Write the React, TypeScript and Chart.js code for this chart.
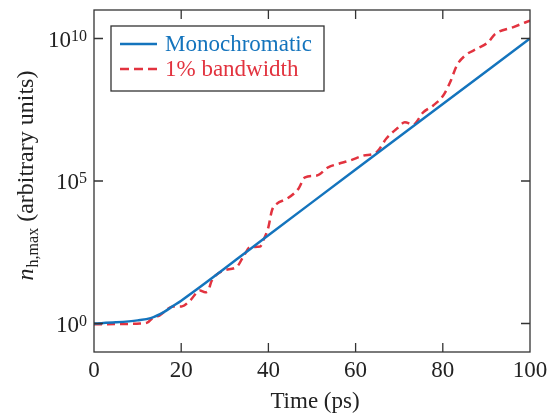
import React, { useEffect, useRef } from "react";
import { Chart, registerables } from "chart.js";

Chart.register(...registerables);

// Monochromatic series: time (ps) and log10 of n_h,max
const monoTimes = [0, 5, 10, 13, 16, 18, 20, 40, 60, 80, 100];
const monoExp = [0, 0.04, 0.11, 0.19, 0.4, 0.6, 0.8, 3.1, 5.4, 7.7, 10];

// 1% bandwidth series: time (ps) and log10 of n_h,max
const bwTimes = [0, 5, 10.6, 12.2, 13.5, 15, 18.2, 20.1, 22, 24.3, 25.5, 26.2, 27, 29.7, 32.7, 34.2, 35.8, 38.1, 38.8, 40, 40.8, 41.9, 44.2, 46.9, 48.4, 51.1, 53.7, 56, 58.7, 61.8, 64.8, 67.1, 69.4, 71.3, 73.2, 75.5, 77.8, 80.1, 81.7, 83.2, 85.1, 87.8, 90.4, 92, 96.2, 100];
const bwExp = [-0.03, -0.02, 0.0, 0.03, 0.2, 0.28, 0.6, 0.6, 0.8, 1.16, 1.1, 1.16, 1.5, 1.86, 1.98, 2.33, 2.68, 2.7, 2.91, 3.38, 3.96, 4.2, 4.37, 4.73, 5.13, 5.19, 5.48, 5.6, 5.72, 5.89, 6.01, 6.5, 6.83, 7.06, 6.98, 7.41, 7.65, 8.0, 8.47, 9.05, 9.4, 9.64, 9.87, 10.16, 10.4, 10.63];

const xTicks = [0, 20, 40, 60, 80, 100];
const yTickExps = [0, 5, 10];

const seriesLabels = ["Monochromatic", "1% bandwidth"];
const BLUE = "#1474bd";
const RED = "#e2333f";
const FONT = "'Liberation Serif', 'Times New Roman', serif";

const toPoints = (ts: number[], es: number[]) => ts.map((t, i) => ({ x: t, y: Math.pow(10, es[i]) }));

const drawPlugin = {
  id: "customDraw",
  afterDraw(chart: any) {
    const ctx: CanvasRenderingContext2D = chart.ctx;
    const { left, right, top, bottom } = chart.chartArea;
    const xs = chart.scales.x;
    const ys = chart.scales.y;
    ctx.save();
    ctx.strokeStyle = "#333";
    ctx.lineWidth = 1.3;
    ctx.strokeRect(left, top, right - left, bottom - top);
    ctx.fillStyle = "#222";
    const tl = 9;
    // x ticks
    ctx.font = `23px ${FONT}`;
    ctx.textAlign = "center";
    ctx.textBaseline = "alphabetic";
    xTicks.forEach((v) => {
      const px = xs.getPixelForValue(v);
      if (v > xs.min && v < xs.max) {
        ctx.beginPath();
        ctx.moveTo(px, bottom);
        ctx.lineTo(px, bottom - tl);
        ctx.moveTo(px, top);
        ctx.lineTo(px, top + tl);
        ctx.stroke();
      }
      ctx.fillText(String(v), px, bottom + 25);
    });
    // y ticks
    yTickExps.forEach((e) => {
      const py = ys.getPixelForValue(Math.pow(10, e));
      ctx.beginPath();
      ctx.moveTo(left, py);
      ctx.lineTo(left + tl, py);
      ctx.moveTo(right, py);
      ctx.lineTo(right - tl, py);
      ctx.stroke();
      ctx.textAlign = "left";
      ctx.font = `16px ${FONT}`;
      const expStr = String(e);
      const ew = ctx.measureText(expStr).width;
      ctx.font = `23px ${FONT}`;
      const bw = ctx.measureText("10").width;
      const xr = left - 7;
      const xb = xr - ew - bw;
      ctx.fillText("10", xb, py + 8);
      ctx.font = `16px ${FONT}`;
      ctx.fillText(expStr, xb + bw, py + 2);
    });
    // x title
    ctx.font = `23px ${FONT}`;
    ctx.textAlign = "center";
    ctx.fillText("Time (ps)", (left + right) / 2 + 3, bottom + 56);
    // y title
    ctx.save();
    ctx.translate(33, 176);
    ctx.rotate(-Math.PI / 2);
    ctx.textAlign = "left";
    const p1 = "n";
    const p2 = "h,max";
    const p3 = " (arbitrary units)";
    ctx.font = `italic 24px ${FONT}`;
    const w1 = ctx.measureText(p1).width;
    ctx.font = `16px ${FONT}`;
    const w2 = ctx.measureText(p2).width;
    ctx.font = `24px ${FONT}`;
    const w3 = ctx.measureText(p3).width;
    let x0 = -(w1 + w2 + w3) / 2;
    ctx.font = `italic 24px ${FONT}`;
    ctx.fillText(p1, x0, 0);
    x0 += w1 + 1;
    ctx.font = `16px ${FONT}`;
    ctx.fillText(p2, x0, 5);
    x0 += w2;
    ctx.font = `24px ${FONT}`;
    ctx.fillText(p3, x0, 0);
    ctx.restore();
    // legend
    const lx = 111, ly = 26, lw = 213, lh = 65;
    ctx.fillStyle = "#fff";
    ctx.fillRect(lx, ly, lw, lh);
    ctx.strokeStyle = "#333";
    ctx.lineWidth = 1.3;
    ctx.strokeRect(lx, ly, lw, lh);
    const rows = [
      { y: 44, color: BLUE, dash: [] as number[], label: chart.data.datasets[0].label },
      { y: 69, color: RED, dash: [9, 5], label: chart.data.datasets[1].label },
    ];
    rows.forEach((r) => {
      ctx.strokeStyle = r.color;
      ctx.lineWidth = 2.5;
      ctx.setLineDash(r.dash);
      ctx.beginPath();
      ctx.moveTo(120, r.y);
      ctx.lineTo(157, r.y);
      ctx.stroke();
      ctx.setLineDash([]);
      ctx.fillStyle = r.color;
      ctx.font = `23px ${FONT}`;
      ctx.textAlign = "left";
      ctx.fillText(r.label, 165, r.y + 7);
    });
    ctx.restore();
  },
};

export default function App() {
  const ref = useRef<HTMLCanvasElement | null>(null);
  useEffect(() => {
    if (!ref.current) return;
    const chart = new Chart(ref.current, {
      type: "line",
      data: {
        datasets: [
          {
            label: seriesLabels[0],
            data: toPoints(monoTimes, monoExp),
            borderColor: BLUE,
            borderWidth: 2.5,
            pointRadius: 0,
            cubicInterpolationMode: "monotone",
            fill: false,
          },
          {
            label: seriesLabels[1],
            data: toPoints(bwTimes, bwExp),
            borderColor: RED,
            borderWidth: 2.5,
            borderDash: [8, 5],
            pointRadius: 0,
            cubicInterpolationMode: "monotone",
            fill: false,
          },
        ],
      },
      options: {
        responsive: false,
        animation: false,
        parsing: true,
        layout: { padding: { top: 10, right: 28, left: 0, bottom: 0 } },
        plugins: { legend: { display: false }, tooltip: { enabled: false } },
        scales: {
          x: {
            type: "linear",
            min: 0,
            max: 100,
            ticks: { display: false, stepSize: 20 },
            grid: { display: false },
            border: { display: false },
            afterFit: (s: any) => {
              s.height = 66;
            },
          },
          y: {
            type: "logarithmic",
            min: 0.1,
            max: 1e11,
            ticks: { display: false },
            grid: { display: false },
            border: { display: false },
            afterFit: (s: any) => {
              s.width = 94;
            },
          },
        },
      },
      plugins: [drawPlugin],
    } as any);
    return () => chart.destroy();
  }, []);
  return (
    <div style={{ position: "fixed", left: 0, top: 0, width: 558, height: 418, background: "#fff" }}>
      <canvas ref={ref} width={558} height={418} />
    </div>
  );
}
